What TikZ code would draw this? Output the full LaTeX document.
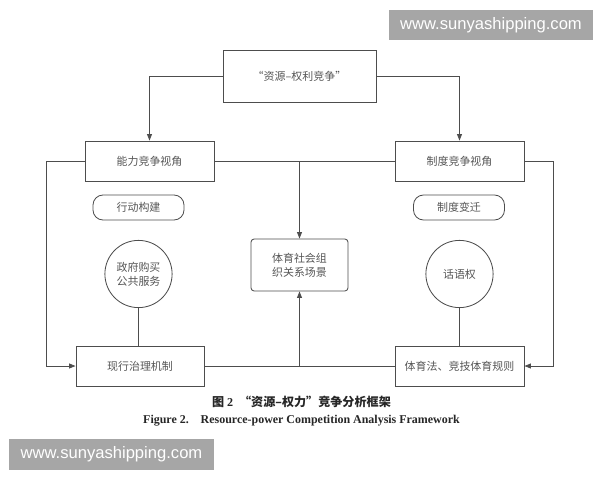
\documentclass[tikz,border=0pt]{standalone}
\usepackage{fontspec}
\setmainfont{Liberation Serif}
\newfontfamily\cjk{Noto Sans CJK SC}
\newfontfamily\wmfont{Liberation Sans}
\usetikzlibrary{arrows.meta}
\definecolor{linegray}{HTML}{4D4D4D}
\definecolor{textgray}{HTML}{555555}
\definecolor{markgray}{HTML}{A6A6A6}
\tikzset{
  frame/.style={draw=linegray,line width=0.6pt,text=textgray,align=center,inner sep=1pt,
    font=\cjk\fontsize{7.8}{10}\selectfont},
  widebox/.style={frame,minimum width=3.225cm,minimum height=1cm},
  pill/.style={frame,rounded corners=0.25cm,minimum width=2.275cm,minimum height=0.625cm},
  bubble/.style={frame,circle,minimum size=1.68cm},
  link/.style={draw=linegray,line width=0.6pt},
  arr/.style={link,-{Triangle[length=4.5pt,width=3.4pt]}},
  stamp/.style={fill=markgray,text=white,minimum width=5.1cm,minimum height=0.75cm,
    inner sep=0pt,font=\wmfont\fontsize{11.8}{12}\selectfont}
}

\begin{document}
\begin{tikzpicture}[x=0.025cm,y=-0.025cm]
\useasboundingbox (0,0) rectangle (600,480);
% boxes
\node[frame,minimum width=3.825cm,minimum height=1.3cm] (top) at (299.5,76) {“资源–权利竞争”};
\node[widebox] (ability) at (149.5,161) {能力竞争视角};
\node[widebox] (inst) at (459.5,161) {制度竞争视角};
\node[pill] (action) at (138.5,207.5) {行动构建};
\node[pill] (change) at (459,207.5) {制度变迁};
\node[bubble] (gov) at (138.5,274) {政府购买\\公共服务};
\node[bubble] (voice) at (459.5,274) {话语权};
\node[frame,rounded corners=0.08cm,minimum width=2.425cm,minimum height=1.3cm] (scene) at (299.5,265) {体育社会组\\织关系场景};
\node[widebox,minimum width=3.2cm] (mech) at (140,366) {现行治理机制};
\node[widebox] (law) at (459.5,366) {体育法、竞技体育规则};
% connectors
\draw[arr] (top.west) -| (ability.north);
\draw[arr] (top.east) -| (inst.north);
\draw[link] (ability.east) -- (inst.west);
\coordinate (upjoin) at (scene.north |- ability.east);
\draw[arr] (upjoin) -- (scene.north);
\draw[link] (mech.east) -- (law.west);
\coordinate (lowjoin) at (scene.south |- mech.east);
\draw[arr] (lowjoin) -- (scene.south);
\draw[arr] (ability.west) -- ++(-38,0) |- (mech.west);
\draw[arr] (inst.east) -- ++(29,0) |- (law.east);
\draw[link] (gov.south) -- (gov.south |- mech.north);
\draw[link] (voice.south) -- (voice.south |- law.north);
% caption
\node[font=\cjk\bfseries\fontsize{8.6}{10}\selectfont,text=black!85] (cncap) at (301.5,402)
  {图 {\rmfamily 2}\enspace “资源–权力”竞争分析框架};
\node[font=\bfseries\fontsize{8.5}{10}\selectfont,text=black!85] (encap) at (301.5,421)
  {Figure 2.\quad Resource-power Competition Analysis Framework};
% watermarks
\node[stamp] (marktop) at (491,25) {www.sunyashipping.com};
\node[stamp] (markbot) at (111.5,454.5) {www.sunyashipping.com};
\end{tikzpicture}
\end{document}
